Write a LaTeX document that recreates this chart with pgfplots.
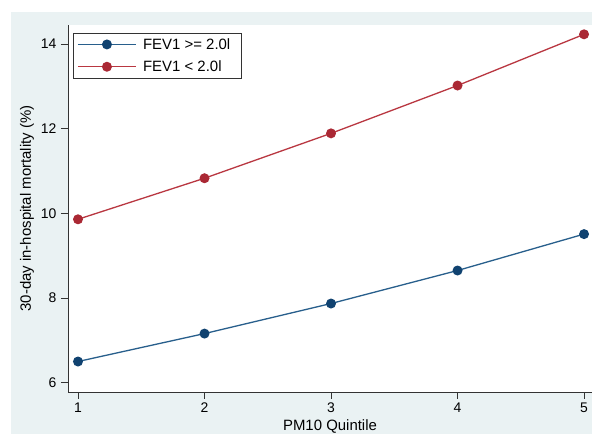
\documentclass[border=0pt]{standalone}
\usepackage{fontspec}
\setmainfont{Liberation Sans}
\usepackage{pgfplots}
\pgfplotsset{compat=1.18}
\definecolor{bgblue}{RGB}{234,242,243}
\definecolor{snavy}{RGB}{16,66,112}
\definecolor{smaroon}{RGB}{170,40,52}
\definecolor{lnavy}{RGB}{40,95,140}
\definecolor{lmaroon}{RGB}{185,55,65}
\begin{document}
\begin{tikzpicture}[x=1bp,y=1bp]
\useasboundingbox (0,0) rectangle (592,434);
\fill[bgblue] (11,0) rectangle (592,422);
\begin{axis}[
  at={(68bp,42bp)}, anchor=south west,
  scale only axis, width=524bp, height=367bp,
  xmin=0.921, xmax=5.063, ymin=5.78, ymax=14.45,
  axis x line*=bottom, axis y line*=left,
  axis background/.style={fill=white},
  xtick={1,2,3,4,5}, ytick={6,8,10,12,14},
  tick align=outside, major tick length=7bp,
  tick style={black!80, line width=0.6bp},
  axis line style={black!80, line width=0.6bp, -},
  ticklabel style={font=\fontsize{14}{16}\selectfont},
  yticklabel style={xshift=-1bp},
  /pgf/number format/assume math mode=true,
  xlabel={PM10 Quintile},
  ylabel={30-day in-hospital mortality (\%)},
  label style={font=\fontsize{15}{17}\selectfont},
  xlabel style={at={(axis description cs:0.5,0)}, anchor=base, yshift=-39bp},
  ylabel style={at={(axis description cs:0,0.5)}, anchor=center, yshift=41bp},
  legend style={at={(axis description cs:0,1)}, anchor=north west, xshift=5bp, yshift=-8bp,
    draw=black!80, fill=white, font=\fontsize{15}{17}\selectfont,
    inner xsep=4bp, inner ysep=3bp, row sep=6bp, column sep=4.5bp, line width=0.6bp},
  legend cell align=left,
  legend image code/.code={\draw[#1, mark repeat=2, mark phase=2] plot coordinates {(0bp,0bp) (29bp,0bp) (58bp,0bp)};},
]
\addplot[color=lnavy, line width=1.3bp, mark=*, mark size=4.3bp, mark options={fill=snavy, draw=snavy}]
  coordinates {(1,6.50) (2,7.16) (3,7.87) (4,8.65) (5,9.51)};
\addlegendentry{FEV1 >= 2.0l\hspace*{5bp}}
\addplot[color=lmaroon, line width=1.3bp, mark=*, mark size=4.3bp, mark options={fill=smaroon, draw=smaroon}]
  coordinates {(1,9.86) (2,10.83) (3,11.89) (4,13.02) (5,14.23)};
\addlegendentry{FEV1 < 2.0l}
\end{axis}
\end{tikzpicture}
\end{document}
